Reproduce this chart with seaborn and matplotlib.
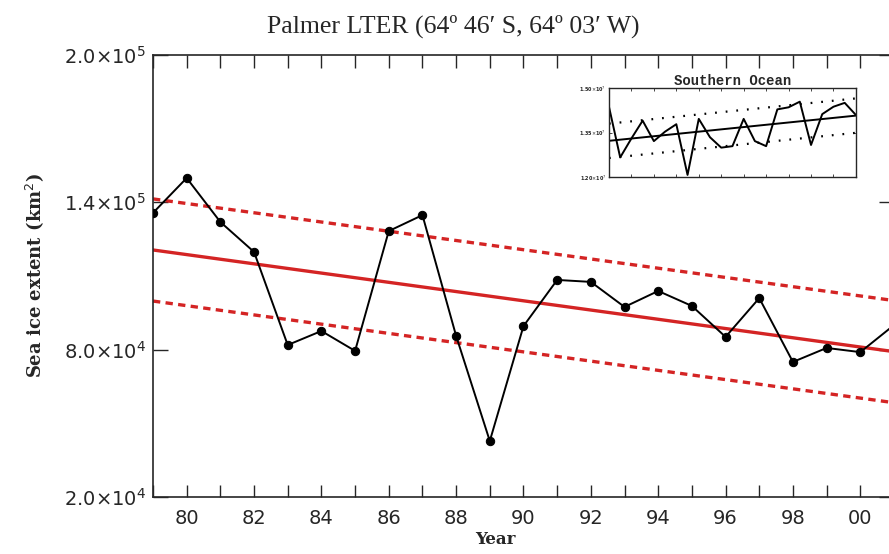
import matplotlib
matplotlib.use("Agg")
import matplotlib.pyplot as plt
import numpy as np
import pandas as pd
import seaborn as sns

# Palmer LTER sea ice extent (km^2)
years = list(range(1979, 2002))
palmer_extent = [135700, 149900, 132000, 119800, 81900, 87600, 79500,
                 128300, 134800, 85600, 42800, 89600, 108400, 107600,
                 97400, 103900, 97800, 85200, 101000, 75000, 80700,
                 79000, 90000]
# trend line end values and half width of the dashed band
trend_years = [1979, 2001]
palmer_trend = [120600, 79200]
palmer_band = 20800

# Southern Ocean inset series
ocean_extent = [1.437e7, 1.266e7, 1.330e7, 1.390e7, 1.321e7, 1.353e7,
                1.378e7, 1.207e7, 1.396e7, 1.334e7, 1.299e7, 1.304e7,
                1.396e7, 1.321e7, 1.304e7, 1.428e7, 1.435e7, 1.454e7,
                1.308e7, 1.412e7, 1.437e7, 1.450e7, 1.409e7]
ocean_trend = [1.322e7, 1.407e7]
ocean_band = 0.058e7

yticks = [2e4, 8e4, 1.4e5, 2e5]
ytick_labels = [r"2.0$\times$10$^4$", r"8.0$\times$10$^4$",
                r"1.4$\times$10$^5$", r"2.0$\times$10$^5$"]
inset_yticks = [1.2e7, 1.35e7, 1.5e7]
inset_ylabels = [r"1.20$\times$10$^7$", r"1.35$\times$10$^7$", r"1.50$\times$10$^7$"]

df = pd.DataFrame({"year": years, "extent": palmer_extent})
ocean = pd.DataFrame({"year": years, "extent": ocean_extent})

sns.set_style("ticks")
plt.rcParams["font.family"] = ["DejaVu Sans"]
red = "#d42424"

fig = plt.figure(figsize=(8.89, 5.54), dpi=100)
ax = fig.add_axes([0.1721, 0.1029, 0.8335, 0.7978])

# trend and band
tr = np.array(palmer_trend)
ax.plot(trend_years, tr, color=red, lw=2.4, zorder=2)
ax.plot(trend_years, tr + palmer_band, color=red, lw=2.4, ls=(0, (2.2, 1.6)), zorder=2)
ax.plot(trend_years, tr - palmer_band, color=red, lw=2.4, ls=(0, (2.2, 1.6)), zorder=2)

sns.lineplot(data=df, x="year", y="extent", ax=ax, color="black", lw=1.4,
             marker="o", markersize=6, markeredgecolor="black", zorder=3)

ax.set_xlim(1979, 2001)
ax.set_ylim(2e4, 2e5)
ax.set_xticks(range(1980, 2001, 2))
ax.set_xticklabels([f"{y % 100:02d}" for y in range(1980, 2001, 2)], fontsize=14)
ax.set_xticks(range(1979, 2002), minor=True)
ax.set_yticks(yticks)
ax.set_yticklabels(ytick_labels, fontsize=14)
ax.tick_params(axis="x", which="both", direction="in", length=9, width=1,
               top=True, pad=9)
ax.tick_params(axis="y", which="major", direction="in", length=11, width=1,
               right=True, pad=5)
for s in ax.spines.values():
    s.set_linewidth(1.2)

ax.set_xlabel("Year", fontsize=12, family="DejaVu Serif", fontweight="bold", labelpad=0)
ax.xaxis.set_label_coords(0.4615, -0.076)
ax.set_ylabel("Sea ice extent (km$^2$)", fontsize=13, family="DejaVu Serif",
              fontweight="bold", labelpad=4)
ax.yaxis.set_label_coords(-0.145, 0.5)

fig.text(0.51, 0.953, "Palmer LTER (64\u00ba 46\u2032 S, 64\u00ba 03\u2032 W)",
         ha="center", va="center", fontsize=18.5, family="Liberation Serif")

# inset
ins = fig.add_axes([0.685, 0.6805, 0.2778, 0.1606])
otr = np.array(ocean_trend)
ins.plot(trend_years, otr, color="black", lw=1.4)
ins.plot(trend_years, otr + ocean_band, color="black", lw=1.6, ls=(0, (0.8, 4)))
ins.plot(trend_years, otr - ocean_band, color="black", lw=1.6, ls=(0, (0.8, 4)))
sns.lineplot(data=ocean, x="year", y="extent", ax=ins, color="black", lw=1.4)
ins.set_xlim(1979, 2001)
ins.set_ylim(1.2e7, 1.5e7)
ins.set_xticks(range(1979, 2002, 2))
ins.set_xticklabels([])
ins.set_yticks(inset_yticks)
ins.set_yticklabels(inset_ylabels, fontsize=3.5, fontweight="bold")
ins.tick_params(direction="in", length=2, width=0.6, top=True, right=True, pad=2)
ins.set_xlabel("")
ins.set_ylabel("")
for s in ins.spines.values():
    s.set_linewidth(1.0)
ins.set_title("Southern Ocean", fontsize=10, family="Liberation Mono",
              fontweight="bold", pad=2)

fig.savefig("out.png", dpi=100)
